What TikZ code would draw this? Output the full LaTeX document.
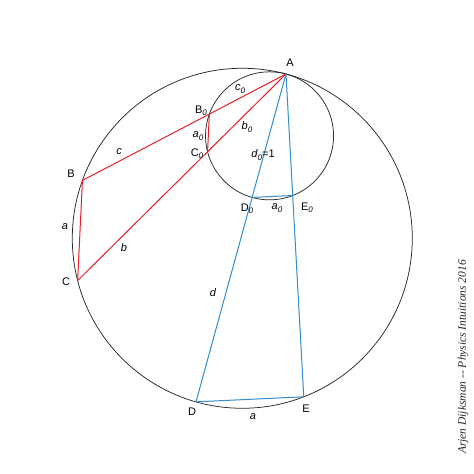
\documentclass[tikz,border=0pt]{standalone}
\usepackage{fontspec}
\setmainfont{Liberation Sans}
\newfontfamily\sigfont{Liberation Serif}
\usetikzlibrary{calc}
\definecolor{redl}{RGB}{230,32,38}
\definecolor{bluel}{RGB}{50,140,205}
\definecolor{circc}{RGB}{40,40,40}
\newcommand\zsub[1]{\raisebox{-0.4ex}{\fontsize{8}{8}\selectfont\itshape #1}}
\begin{document}
\begin{tikzpicture}[x=1pt,y=1pt,
  circ/.style={draw=circc, line width=0.75pt},
  redseg/.style={draw=redl, line width=1pt, line join=round},
  blueseg/.style={draw=bluel, line width=1pt, line join=round},
  lbl/.style={font=\fontsize{11}{13}\selectfont, inner sep=0pt},
  ilbl/.style={font=\fontsize{11}{13}\selectfont\itshape, inner sep=0pt}]
\useasboundingbox (0,0) rectangle (474,474);
% geometry
\coordinate (A) at (286,400);
\coordinate (O1) at ($(A)+(255.1:64)$);
\coordinate (O) at ($(A)+(255.1:170)$);
\coordinate (B0) at ($(O1)+(160.1:64)$);
\coordinate (C0) at ($(O1)+(194.4:64)$);
\coordinate (D0) at ($(O1)+(254.2:64)$);
\coordinate (E0) at ($(O1)+(291.2:64)$);
\coordinate (B) at ($(A)!2.65625!(B0)$);
\coordinate (C) at ($(A)!2.65625!(C0)$);
\coordinate (D) at ($(A)!2.65625!(D0)$);
\coordinate (E) at ($(A)!2.65625!(E0)$);
% circles
\draw[circ] (O) circle[radius=170pt];
\draw[circ] (O1) circle[radius=64pt];
% red
\draw[redseg] (A) -- (B);
\draw[redseg] (A) -- (C);
\draw[redseg] (B) -- (C);
\draw[redseg] (B0) -- (C0);
% blue
\draw[blueseg] (A) -- (D);
\draw[blueseg] (A) -- (E);
\draw[blueseg] (D) -- (E);
\draw[blueseg] (D0) -- (E0);
% labels
\node[lbl] (lA) at (290,411) {A};
\node[lbl] (lB0) at (201,363) {B\zsub{0}};
\node[ilbl] (lc0) at (240,385) {c\zsub{0}};
\node[ilbl] (la0a) at (198,338) {a\zsub{0}};
\node[ilbl] (lb0) at (247,347) {b\zsub{0}};
\node[lbl] (lC0) at (197,320) {C\zsub{0}};
\node[lbl] (ld0) at (263,319) {\textit{d}\zsub{0}=1};
\node[ilbl] (lc) at (119,322) {c};
\node[lbl] (lB) at (71,300) {B};
\node[ilbl] (la1) at (65,247) {a};
\node[ilbl] (lb) at (124,226) {b};
\node[lbl] (lC) at (66,192) {C};
\node[lbl] (lD0) at (247,265) {D\zsub{0}};
\node[ilbl] (la0b) at (277,266) {a\zsub{0}};
\node[lbl] (lE0) at (307,266) {E\zsub{0}};
\node[ilbl] (ld) at (213,181) {d};
\node[lbl] (lD) at (192,62) {D};
\node[ilbl] (la2) at (253,57) {a};
\node[lbl] (lE) at (306,65) {E};
\node[rotate=90, inner sep=0pt, text=black!85, font=\sigfont\itshape\fontsize{11.5}{13}\selectfont] (sig) at (463,117) {Arjen Dijksman -- Physics Intuitions 2016};
\end{tikzpicture}
\end{document}
